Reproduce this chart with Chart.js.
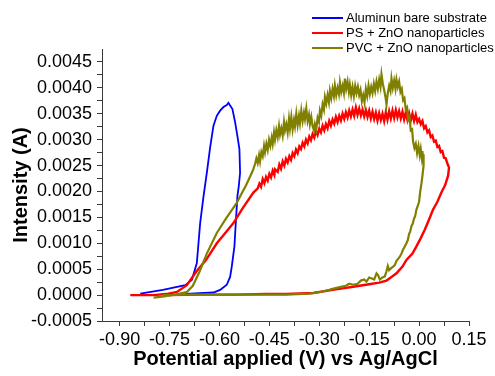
<!DOCTYPE html>
<html>
<head>
<meta charset="utf-8">
<script src="https://cdn.jsdelivr.net/npm/chart.js@4.4.0/dist/chart.umd.min.js"></script>
<style>
  html, body { margin: 0; padding: 0; background: #fff; }
  #wrap { position: relative; width: 495px; height: 376px; }
  #legend { position: absolute; left: 312px; top: 10px; font: 13px "Liberation Sans", Arial, sans-serif; color: #000; }
  #legend div { height: 15px; line-height: 15px; white-space: nowrap; display: flex; align-items: center; }
  #legend span.sw { display: inline-block; width: 31px; height: 0; margin-right: 3px; }
</style>
</head>
<body>
<div id="wrap">
  <canvas id="cv" width="495" height="376"></canvas>
  <div id="legend"></div>
</div>
<script>
// cyclic voltammetry curves: potential (V) and current (A)

const seriesNames = ['Aluminun bare substrate', 'PS + ZnO nanoparticles', 'PVC + ZnO nanoparticles'];
const seriesColors = ['#0000ff', '#ff0000', '#808000'];

// blue - bare aluminium
const alX = [-0.838, -0.77, -0.703, -0.683, -0.668, -0.658, -0.648, -0.638, -0.628, -0.618, -0.608, -0.598,
  -0.588, -0.578, -0.573, -0.568, -0.561, -0.553, -0.546, -0.540, -0.538, -0.542, -0.546, -0.551, -0.555,
  -0.563, -0.568, -0.578, -0.598, -0.618, -0.688, -0.72];
const alY = [0.00003, 0.00010, 0.00019, 0.00029, 0.00062, 0.00139, 0.00190, 0.00236, 0.00285, 0.00327, 0.00346, 0.00356,
  0.00363, 0.00367, 0.00371, 0.00366, 0.00359, 0.00334, 0.00307, 0.00282, 0.00236, 0.00210, 0.00191, 0.00139, 0.00094,
  0.00055, 0.00035, 0.00020, 0.00010, 0.00005, 0.00003, 0.00002];

// red - PS + ZnO
const psX = [-0.868, -0.80, -0.76, -0.728, -0.698, -0.67, -0.64, -0.608, -0.58, -0.558, -0.53, -0.498,
  -0.485, -0.48, -0.475, -0.47, -0.465, -0.46, -0.455, -0.45, -0.445, -0.44, -0.435, -0.433, -0.425, -0.42,
  -0.415, -0.41, -0.405, -0.40, -0.395, -0.39, -0.385, -0.38, -0.375, -0.37, -0.365, -0.36, -0.355, -0.35,
  -0.345, -0.34, -0.335, -0.33, -0.325, -0.32, -0.315, -0.31, -0.305, -0.30, -0.295, -0.29, -0.285, -0.28,
  -0.275, -0.27, -0.265, -0.26, -0.255, -0.25, -0.245, -0.24, -0.235, -0.23, -0.225, -0.22, -0.215, -0.21,
  -0.205, -0.20, -0.195, -0.19, -0.185, -0.18, -0.175, -0.17, -0.165, -0.16, -0.155, -0.15, -0.145, -0.14,
  -0.135, -0.13, -0.125, -0.12, -0.115, -0.11, -0.105, -0.10, -0.095, -0.09, -0.085, -0.08, -0.075, -0.07,
  -0.065, -0.06, -0.055, -0.05, -0.045, -0.04, -0.035, -0.03, -0.025, -0.02, -0.015, -0.01, -0.005, 0.00,
  0.005, 0.01, 0.015, 0.02, 0.025, 0.03, 0.035, 0.04, 0.045, 0.05, 0.055, 0.06, 0.065, 0.07, 0.075, 0.08, 0.085, 0.09,
  0.087, 0.078, 0.067, 0.055, 0.042, 0.03, 0.017, 0.005, -0.008, -0.02, -0.038, -0.05, -0.068, -0.085,
  -0.098, -0.12, -0.15, -0.198, -0.25, -0.318, -0.40, -0.46, -0.55, -0.65, -0.75];
const psY = [0.0, 0.0, 0.00002, 0.00006, 0.00019, 0.00045, 0.00068, 0.00100, 0.00122, 0.00139, 0.00168, 0.00198,
  0.00206, 0.00215, 0.00209, 0.00224, 0.00216, 0.00228, 0.00221, 0.00234, 0.00227, 0.00240, 0.00232, 0.00243, 0.00238, 0.00252,
  0.00244, 0.00258, 0.00250, 0.00263, 0.00256, 0.00268, 0.00261, 0.00274, 0.00268, 0.00281, 0.00274, 0.00287, 0.00282, 0.00294,
  0.00287, 0.00300, 0.00293, 0.00306, 0.00299, 0.00311, 0.00304, 0.00317, 0.00309, 0.00321, 0.00314, 0.00327, 0.00318, 0.00330,
  0.00322, 0.00336, 0.00327, 0.00339, 0.00331, 0.00344, 0.00334, 0.00346, 0.00337, 0.00350, 0.00340, 0.00353, 0.00343, 0.00356,
  0.00345, 0.00358, 0.00346, 0.00362, 0.00348, 0.00360, 0.00347, 0.00358, 0.00345, 0.00357, 0.00344, 0.00356, 0.00341, 0.00354,
  0.00340, 0.00352, 0.00337, 0.00351, 0.00338, 0.00350, 0.00336, 0.00353, 0.00339, 0.00355, 0.00341, 0.00356, 0.00342, 0.00357,
  0.00343, 0.00355, 0.00341, 0.00354, 0.00339, 0.00353, 0.00338, 0.00351, 0.00337, 0.00350, 0.00336, 0.00348, 0.00334, 0.00340,
  0.00330, 0.00336, 0.00322, 0.00326, 0.00314, 0.00318, 0.00305, 0.00308, 0.00296, 0.00298, 0.00286, 0.00288, 0.00276, 0.00278, 0.00265, 0.00264, 0.00254, 0.00246,
  0.00230, 0.00212, 0.00198, 0.00180, 0.00165, 0.00146, 0.00126, 0.00110, 0.00094, 0.00080, 0.00068, 0.00055, 0.00042, 0.00034,
  0.00028, 0.00024, 0.00021, 0.00016, 0.00011, 0.00004, 0.00002, 0.00002, 0.00001, 0.00001, 0.0];

// olive - PVC + ZnO
const pvcX = [-0.798, -0.748, -0.698, -0.68, -0.66, -0.638, -0.608, -0.58, -0.548, -0.535, -0.52, -0.51, -0.50,
  -0.493, -0.489, -0.485, -0.481, -0.478, -0.474, -0.47, -0.466, -0.463, -0.459, -0.455, -0.451, -0.447, -0.443,
  -0.44, -0.436, -0.433, -0.429, -0.425, -0.421, -0.418, -0.414, -0.41, -0.406, -0.403, -0.399, -0.395, -0.391,
  -0.388, -0.384, -0.38, -0.376, -0.373, -0.369, -0.365, -0.361, -0.358, -0.354, -0.35, -0.346, -0.343, -0.339,
  -0.335, -0.331, -0.328, -0.324, -0.32, -0.316, -0.313, -0.309, -0.305, -0.301, -0.298, -0.294, -0.29, -0.286,
  -0.283, -0.279, -0.275, -0.271, -0.268, -0.264, -0.26, -0.256, -0.253, -0.249, -0.245, -0.241, -0.238, -0.234,
  -0.23, -0.226, -0.223, -0.219, -0.215, -0.211, -0.208, -0.204, -0.2, -0.196, -0.192, -0.188, -0.184, -0.18,
  -0.176, -0.172, -0.168, -0.164, -0.16, -0.156, -0.152, -0.148, -0.144, -0.14, -0.136, -0.132, -0.128, -0.124,
  -0.12, -0.116, -0.113, -0.109, -0.105, -0.101, -0.098, -0.094, -0.09, -0.086, -0.083, -0.079, -0.075, -0.071,
  -0.068, -0.064, -0.06, -0.056, -0.052, -0.048, -0.044, -0.04, -0.036, -0.033, -0.029, -0.025, -0.021,
  -0.018, -0.014, -0.01, -0.006, -0.002, 0.002, 0.005, 0.008, 0.010, 0.012, 0.014, 0.013, 0.010, 0.007, 0.003, 0.0,
  -0.004, -0.008, -0.012, -0.015, -0.019, -0.023, -0.027, -0.03, -0.034, -0.038, -0.043, -0.048, -0.053, -0.058,
  -0.063, -0.068, -0.073, -0.078, -0.084, -0.09, -0.094, -0.098, -0.103, -0.11, -0.118, -0.123, -0.128, -0.135,
  -0.142, -0.15, -0.158, -0.165, -0.175, -0.185, -0.198, -0.21, -0.22, -0.235, -0.248, -0.26, -0.27, -0.285,
  -0.298, -0.33, -0.40, -0.50, -0.60, -0.70, -0.77];
const pvcY = [-0.00005, -0.00001, 0.00006, 0.00018, 0.00045, 0.00080, 0.00120, 0.00148, 0.00178, 0.00194, 0.00212, 0.00226, 0.00240,
  0.00253, 0.00264, 0.00255, 0.00270, 0.00258, 0.00276, 0.00268, 0.00288, 0.00276, 0.00292, 0.00280, 0.00300, 0.00288, 0.00304,
  0.00292, 0.00314, 0.00300, 0.00318, 0.00305, 0.00326, 0.00310, 0.00322, 0.00308, 0.00334, 0.00318, 0.00330, 0.00314, 0.00340,
  0.00322, 0.00344, 0.00320, 0.00338, 0.00326, 0.00350, 0.00328, 0.00346, 0.00332, 0.00356, 0.00336, 0.00352, 0.00340, 0.00360,
  0.00336, 0.00348, 0.00330, 0.00344, 0.00326, 0.00318, 0.00330, 0.00320, 0.00342, 0.00334, 0.00356, 0.00346, 0.00368, 0.00358,
  0.00382, 0.00370, 0.00386, 0.00372, 0.00394, 0.00380, 0.00398, 0.00384, 0.00404, 0.00386, 0.00400, 0.00388, 0.00410, 0.00392,
  0.00404, 0.00390, 0.00418, 0.00398, 0.00412, 0.00392, 0.00406, 0.00386, 0.00402, 0.00384, 0.00404, 0.00390, 0.00402, 0.00386,
  0.00396, 0.00374, 0.00386, 0.00372, 0.00398, 0.00384, 0.00404, 0.00388, 0.00402, 0.00390, 0.00408, 0.00394, 0.00412, 0.00398,
  0.00416, 0.00402, 0.00426, 0.00408, 0.00396, 0.00382, 0.00368, 0.00390, 0.00404, 0.00394, 0.00418, 0.00400, 0.00414, 0.00398,
  0.00416, 0.00402, 0.00412, 0.00392, 0.00398, 0.00376, 0.00380, 0.00358, 0.00362, 0.00338, 0.00344, 0.00318, 0.00320,
  0.00296, 0.00284, 0.00292, 0.00274, 0.00288, 0.00270, 0.00282, 0.00266, 0.00278, 0.00262, 0.00272, 0.00250, 0.00230, 0.00215, 0.00198, 0.00180,
  0.00172, 0.00165, 0.00152, 0.00148, 0.00138, 0.00133, 0.00122, 0.00118, 0.00106, 0.00100, 0.00094, 0.00088, 0.00080, 0.00074,
  0.00070, 0.00066, 0.00058, 0.00055, 0.00052, 0.00048, 0.00056, 0.00046, 0.00036, 0.00034, 0.00030, 0.00038, 0.00042, 0.00030,
  0.00032, 0.00034, 0.00026, 0.00030, 0.00028, 0.00022, 0.00020, 0.00022, 0.00018, 0.00016, 0.00014, 0.00012, 0.00010, 0.00008,
  0.00006, 0.00003, 0.00001, 0.00001, 0.00001, 0.00001, 0.0];

// axes
const xMajorTicks = [-0.90, -0.75, -0.60, -0.45, -0.30, -0.15, 0.00, 0.15];
const yMajorTicks = [-0.0005, 0.0000, 0.0005, 0.0010, 0.0015, 0.0020, 0.0025, 0.0030, 0.0035, 0.0040, 0.0045];
const xTitle = 'Potential applied (V) vs Ag/AgCl';
const yTitle = 'Intensity (A)';

function toPoints(xs, ys) {
  return xs.map((x, i) => ({ x: x, y: ys[i] }));
}

// major ticks plus a minor one half way between each pair
function withMinors(majors) {
  const out = [];
  majors.forEach((v, i) => {
    out.push({ value: v });
    if (i < majors.length - 1) out.push({ value: (v + majors[i + 1]) / 2 });
  });
  return out;
}

function isMajor(v, majors) {
  return majors.some(m => Math.abs(m - v) < 1e-9);
}

const axisColor = '#3a3a3a';
const tickFont = { family: '"Liberation Sans", Arial, sans-serif', size: 18 };
const titleFont = { family: '"Liberation Sans", Arial, sans-serif', size: 20, weight: 'bold' };

const datasets = [
  { label: seriesNames[0], data: toPoints(alX, alY), borderColor: seriesColors[0], borderWidth: 1.8, order: 2 },
  { label: seriesNames[1], data: toPoints(psX, psY), borderColor: seriesColors[1], borderWidth: 2.4, order: 1 },
  { label: seriesNames[2], data: toPoints(pvcX, pvcY), borderColor: seriesColors[2], borderWidth: 2.2, order: 0 }
].map(d => Object.assign(d, { showLine: true, pointRadius: 0, fill: false, tension: 0 }));

new Chart(document.getElementById('cv'), {
  type: 'scatter',
  data: { datasets },
  options: {
    responsive: false,
    animation: false,
    layout: { padding: { top: 49, right: 26, left: 0, bottom: 0 } },
    plugins: { legend: { display: false }, tooltip: { enabled: false } },
    scales: {
      x: {
        type: 'linear',
        min: -0.953,
        max: 0.15,
        afterBuildTicks: s => { s.ticks = withMinors(xMajorTicks); },
        afterFit: s => { s.height = 55; },
        border: { display: true, color: axisColor, width: 1 },
        grid: { display: true, drawOnChartArea: false, drawTicks: true, tickLength: 5, color: axisColor },
        ticks: {
          autoSkip: false, maxRotation: 0, padding: 3, color: '#000', font: tickFont,
          callback: v => isMajor(v, xMajorTicks) ? v.toFixed(2) : ''
        },
        title: { display: true, text: xTitle, color: '#000', font: titleFont, padding: { top: 0, bottom: 5 } }
      },
      y: {
        type: 'linear',
        min: -0.0005,
        max: 0.00475,
        afterBuildTicks: s => { s.ticks = withMinors(yMajorTicks); },
        afterFit: s => { s.width = 102; },
        border: { display: true, color: axisColor, width: 1 },
        grid: { display: true, drawOnChartArea: false, drawTicks: true, tickLength: 5, color: axisColor },
        ticks: {
          autoSkip: false, padding: 5, color: '#000', font: tickFont,
          callback: v => isMajor(v, yMajorTicks) ? v.toFixed(4) : ''
        },
        title: { display: true, text: yTitle, color: '#000', font: titleFont, padding: { top: 9, bottom: 0 } }
      }
    }
  }
});

// legend in the top right corner
const legendEl = document.getElementById('legend');
seriesNames.forEach((name, i) => {
  const row = document.createElement('div');
  const sw = document.createElement('span');
  sw.className = 'sw';
  sw.style.borderTop = '2px solid ' + seriesColors[i];
  row.appendChild(sw);
  row.appendChild(document.createTextNode(name));
  legendEl.appendChild(row);
});
</script>
</body>
</html>
